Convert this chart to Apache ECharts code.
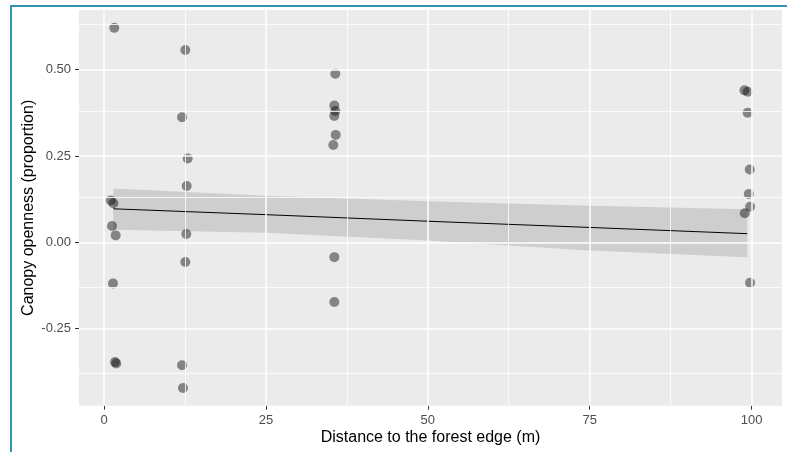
<!DOCTYPE html>
<html>
<head>
<meta charset="utf-8">
<script src="https://cdn.jsdelivr.net/npm/echarts@6/dist/echarts.min.js"></script>
<style>
html,body{margin:0;padding:0;background:#fff;}
#chart{width:787px;height:452px;}
</style>
</head>
<body>
<div id="chart"></div>
<script>
// Observed points (distance to forest edge in m, canopy openness proportion)
var distance = [
  1.59, 1.05, 1.45, 1.24, 1.80, 1.39, 1.70, 1.90,
  12.56, 12.05, 12.92, 12.77, 12.71, 12.56, 12.05, 12.20,
  35.72, 35.57, 35.72, 35.57, 35.78, 35.41, 35.57, 35.57,
  98.90, 99.40, 99.40, 99.72, 99.57, 99.77, 98.95, 99.77
];
var openness = [
  0.621, 0.121, 0.113, 0.047, 0.020, -0.119, -0.347, -0.351,
  0.557, 0.362, 0.243, 0.163, 0.024, -0.057, -0.356, -0.422,
  0.488, 0.396, 0.380, 0.366, 0.311, 0.282, -0.043, -0.173,
  0.440, 0.436, 0.375, 0.211, 0.140, 0.103, 0.084, -0.117
];
// Linear fit and its confidence band
var fitX = [1.44, 25, 50, 75, 99.35];
var fitY = [0.097, 0.080, 0.061, 0.043, 0.025];
var bandLow = [0.036, 0.028, 0.005, -0.024, -0.043];
var bandHigh = [0.156, 0.135, 0.119, 0.106, 0.096];
// Axis ticks
var xTicks = [0, 25, 50, 75, 100];
var xMinor = [12.5, 37.5, 62.5, 87.5];
var yTicks = [-0.25, 0, 0.25, 0.5];
var yMinor = [-0.375, -0.125, 0.125, 0.375, 0.625];

var chart = echarts.init(document.getElementById('chart'));

var points = distance.map(function (d, i) { return [d, openness[i]]; });
var fitLine = fitX.map(function (x, i) { return [x, fitY[i]]; });
var band = fitX.map(function (x, i) { return [x, bandLow[i], bandHigh[i]]; });

var gridLines = [];
xTicks.forEach(function (v) { gridLines.push({ xAxis: v, lineStyle: { color: '#ffffff', width: 1.5, type: 'solid' } }); });
xMinor.forEach(function (v) { gridLines.push({ xAxis: v, lineStyle: { color: '#ffffff', width: 0.8, type: 'solid' } }); });
yTicks.forEach(function (v) { gridLines.push({ yAxis: v, lineStyle: { color: '#ffffff', width: 1.5, type: 'solid' } }); });
yMinor.forEach(function (v) { gridLines.push({ yAxis: v, lineStyle: { color: '#ffffff', width: 0.8, type: 'solid' } }); });

var font = 'Liberation Sans, Arial, sans-serif';

var option = {
  animation: false,
  backgroundColor: '#ffffff',
  grid: {
    left: 79, top: 10, right: 5, bottom: 46.3,
    show: true, backgroundColor: '#EBEBEB', borderWidth: 0
  },
  xAxis: {
    type: 'value',
    min: -3.86, max: 104.7,
    name: 'Distance to the forest edge (m)',
    nameLocation: 'middle',
    nameGap: 24,
    nameMoveOverlap: false,
    nameTextStyle: { color: '#000000', fontSize: 16, fontFamily: font },
    axisLine: { show: false, onZero: false },
    axisTick: { show: true, length: 4, customValues: xTicks, lineStyle: { color: '#333333', width: 1 } },
    axisLabel: { customValues: xTicks, margin: 8, color: '#4D4D4D', fontSize: 13, fontFamily: font },
    splitLine: { show: false }
  },
  yAxis: {
    type: 'value',
    min: -0.4732, max: 0.6727,
    name: 'Canopy openness (proportion)',
    nameLocation: 'middle',
    nameGap: 42,
    nameMoveOverlap: false,
    nameRotate: 90,
    nameTextStyle: { color: '#000000', fontSize: 16, fontFamily: font },
    axisLine: { show: false, onZero: false },
    axisTick: { show: true, length: 4, customValues: yTicks, lineStyle: { color: '#333333', width: 1 } },
    axisLabel: {
      customValues: yTicks, margin: 8, color: '#4D4D4D', fontSize: 13,
      fontFamily: font,
      formatter: function (v) { return v.toFixed(2); }
    },
    splitLine: { show: false }
  },
  graphic: [
    { type: 'line', z: 100, shape: { x1: 10, y1: 6, x2: 787, y2: 6 }, style: { stroke: '#3393AE', lineWidth: 2 } },
    { type: 'line', z: 100, shape: { x1: 11, y1: 5, x2: 11, y2: 452 }, style: { stroke: '#3393AE', lineWidth: 2 } }
  ],
  series: [
    {
      type: 'line',
      data: [],
      silent: true,
      z: 0,
      markLine: {
        silent: true,
        symbol: 'none',
        label: { show: false },
        animation: false,
        data: gridLines
      }
    },
    {
      type: 'custom',
      silent: true,
      z: 1,
      data: band,
      encode: { x: 0, y: [1, 2] },
      renderItem: function (params, api) {
        if (params.dataIndex !== 0) { return null; }
        var pts = [];
        for (var i = 0; i < band.length; i++) { pts.push(api.coord([band[i][0], band[i][2]])); }
        for (var j = band.length - 1; j >= 0; j--) { pts.push(api.coord([band[j][0], band[j][1]])); }
        return { type: 'polygon', shape: { points: pts }, style: { fill: 'rgba(153,153,153,0.35)' } };
      }
    },
    {
      type: 'line',
      data: fitLine,
      showSymbol: false,
      silent: true,
      z: 2,
      lineStyle: { color: '#000000', width: 1 }
    },
    {
      type: 'scatter',
      data: points,
      symbol: 'circle',
      symbolSize: 10,
      z: 3,
      itemStyle: { color: 'rgba(0,0,0,0.55)' }
    }
  ]
};
chart.setOption(option);
</script>
</body>
</html>
